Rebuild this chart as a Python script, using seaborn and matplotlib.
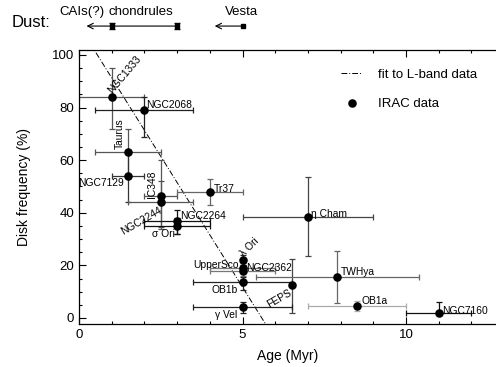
import matplotlib
matplotlib.use("Agg")
import matplotlib.pyplot as plt
import seaborn as sns
import pandas as pd
import numpy as np

# ---------------- data ----------------
names = ["NGC1333", "NGC2068", "Taurus", "NGC7129", "IC348", "NGC2244",
         "NGC2264", "σ Ori", "Tr37", "η Cham", "λ Ori", "UpperSco",
         "NGC2362", "OB1b", "FEPS", "γ Vel", "TWHya", "OB1a", "NGC7160"]
age = [1.0, 2.0, 1.5, 1.5, 2.5, 2.5, 3.0, 3.0, 4.0, 7.0, 5.0, 5.0,
       5.0, 5.0, 6.5, 5.0, 7.9, 8.5, 11.0]
freq = [84, 79, 63, 54, 46.5, 44, 37, 35, 48, 38.5, 22, 19,
        18, 13.5, 12.5, 4, 15.5, 4.5, 2]
age_err = [1.0, 1.5, 1.0, 0.5, 0.5, 1.0, 1.0, 1.0, 1.0, 2.0, 0.0, 1.0,
           1.0, 1.5, 0.0, 1.5, 2.5, 1.5, 1.0]
freq_err_lo = [12, 10, 9, 10, 12, 10, 5, 3, 5, 15, 2, 2, 2, 3, 10.5, 2, 10, 2, 0]
freq_err_hi = [11, 5, 9, 10, 13.5, 8, 4, 3, 5, 15, 2, 2, 2, 2, 10, 2, 10, 2, 4]

fit_age = [0.0, 6.0]
fit_freq = [111.2, -8.2]

dust_labels = ["CAIs(?)", "chondrules", "Vesta"]
dust_age = [1.0, 3.0, 5.0]
dust_arrow_to = [0.23, 0.23, 4.15]

xticks = [0, 5, 10]
yticks = [0, 20, 40, 60, 80, 100]

# ---------------- style ----------------
sns.set_style("ticks")
plt.rcParams['font.family'] = ['Liberation Sans', 'DejaVu Sans']
plt.rcParams['xtick.direction'] = 'in'
plt.rcParams['ytick.direction'] = 'in'
plt.rcParams['text.color'] = 'black'
plt.rcParams['axes.labelcolor'] = 'black'
plt.rcParams['xtick.color'] = 'black'
plt.rcParams['ytick.color'] = 'black'
plt.rcParams['axes.edgecolor'] = 'black'

bar_colors = ['#555', '#222', '#555', '#333', '#555', '#555', '#111', '#111',
              '#666', '#444', '#333', '#777', '#777', '#222', '#444', '#222',
              '#666', '#aaa', '#111']

# label placement: (dx, dy pixels, ha, va, rotation)
label_style = {
    "NGC1333": (2, 2, 'left', 'bottom', 50),
    "NGC2068": (2, 0, 'left', 'bottom', 0),
    "Taurus": (-3, 3, 'left', 'bottom', 90),
    "NGC7129": (-4, -7, 'right', 'center', 0),
    "IC348": (-4, -2, 'left', 'bottom', 90),
    "NGC2244": (-2, -3, 'right', 'top', 30),
    "NGC2264": (3, 0, 'left', 'bottom', 0),
    "σ Ori": (-14, -8, 'center', 'center', 0),
    "Tr37": (4, 3, 'left', 'center', 0),
    "η Cham": (3, 3, 'left', 'center', 0),
    "λ Ori": (3, 2, 'left', 'bottom', 45),
    "UpperSco": (-4, 3, 'right', 'center', 0),
    "NGC2362": (4, 3, 'left', 'center', 0),
    "OB1b": (-5, -8, 'right', 'center', 0),
    "FEPS": (-3, -3, 'right', 'top', 30),
    "γ Vel": (-5, -8, 'right', 'center', 0),
    "TWHya": (3, 5, 'left', 'center', 0),
    "OB1a": (4, 5, 'left', 'center', 0),
    "NGC7160": (3, 2, 'left', 'center', 0),
}

W, H = 496, 367
fig = plt.figure(figsize=(W / 100, H / 100), dpi=100)
ax = fig.add_axes([79 / W, 1 - 324 / H, (W - 79) / W, (324 - 50) / H])

df = pd.DataFrame({"name": names, "age": age, "freq": freq})
fit_df = pd.DataFrame({"age": fit_age, "freq": fit_freq})

# fit line
sns.lineplot(data=fit_df, x="age", y="freq", ax=ax, color='black', lw=0.7,
             linestyle=(0, (6, 2, 1, 2)), label="fit to L-band data")

# error bars
for i in range(len(names)):
    ax.errorbar(age[i], freq[i], xerr=age_err[i] if age_err[i] > 0 else None,
                yerr=[[freq_err_lo[i]], [freq_err_hi[i]]],
                fmt='none', ecolor=bar_colors[i], elinewidth=0.9,
                capsize=2.2, capthick=0.9, zorder=2)

sns.scatterplot(data=df, x="age", y="freq", ax=ax, color='black', s=38,
                edgecolor='black', linewidth=0, zorder=3, label="IRAC data")

for i, n in enumerate(names):
    dx, dy, ha, va, rot = label_style[n]
    ax.annotate(n, (age[i], freq[i]), xytext=(dx, dy), textcoords='offset pixels',
                ha=ha, va=va, rotation=rot, rotation_mode='anchor',
                fontsize=7.4, zorder=4)

ax.set_xlim(0, 12.75)
ax.set_ylim(-2.3, 101.9)
ax.set_xticks(xticks)
ax.set_yticks(yticks)
ax.set_xticks(np.arange(0, 13, 1), minor=True)
ax.set_yticks(np.arange(0, 101, 5), minor=True)
ax.tick_params(which='both', top=True, right=False, labelsize=9.5, width=0.8)
ax.tick_params(which='major', length=5)
ax.tick_params(which='minor', length=2.5)
ax.spines['right'].set_visible(False)
for s in ['left', 'bottom', 'top']:
    ax.spines[s].set_linewidth(0.9)

ax.set_xlabel("Age (Myr)", fontsize=10, labelpad=6)
ax.set_ylabel("Disk frequency (%)", fontsize=10, labelpad=15)

leg = ax.legend(loc='upper left', bbox_to_anchor=(0.60, 0.975), frameon=False,
                fontsize=9.5, handlelength=1.6, handletextpad=1.2,
                labelspacing=1.25, markerscale=1.0)

# Dust row above axes
dust_y = 111.0
ax.annotate('', xy=(dust_arrow_to[0], dust_y), xytext=(dust_age[1], dust_y),
            arrowprops=dict(arrowstyle='->', lw=0.8, color='black',
                            shrinkA=0, shrinkB=0), annotation_clip=False)
ax.annotate('', xy=(dust_arrow_to[2], dust_y), xytext=(dust_age[2], dust_y),
            arrowprops=dict(arrowstyle='->', lw=0.8, color='black',
                            shrinkA=0, shrinkB=0), annotation_clip=False)
ax.errorbar(dust_age[:2], [dust_y] * 2, yerr=1.2, fmt='s', ms=2.5, color='black',
            capsize=2, elinewidth=0.8, clip_on=False)
ax.plot([dust_age[2]], [dust_y], 's', ms=2.5, color='black', clip_on=False)
ax.text(-2.06, 112.5, "Dust:", fontsize=12, ha='left', va='center')
ax.text(0.08, 116.5, dust_labels[0], fontsize=9.5, ha='center', va='center')
ax.text(1.9, 116.5, dust_labels[1], fontsize=9.5, ha='center', va='center')
ax.text(4.97, 116.5, dust_labels[2], fontsize=9.5, ha='center', va='center')

fig.savefig("out.png", dpi=100)
